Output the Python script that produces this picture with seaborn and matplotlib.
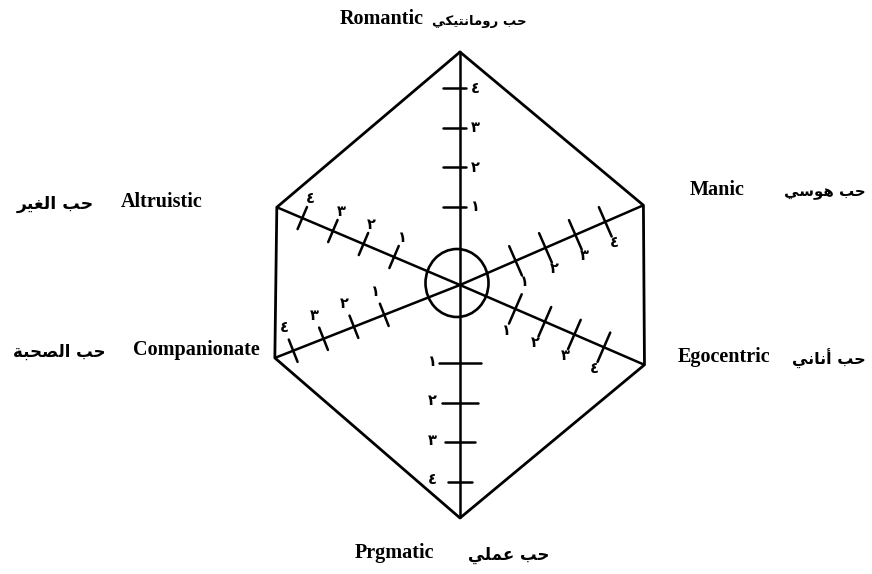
import numpy as np
import pandas as pd
import matplotlib
matplotlib.use("Agg")
import matplotlib.pyplot as plt
import seaborn as sns
from matplotlib.patches import Ellipse

# ---------------- data ----------------
axes_en = ["Romantic", "Manic", "Egocentric", "Prgmatic", "Companionate", "Altruistic"]
axes_ar = ["حب رومانتيكي", "حب هوسي", "حب أناني", "حب عملي", "حب الصحبة", "حب الغير"]
tick_values = [1, 2, 3, 4]
tick_labels = ["١", "٢", "٣", "٤"]

# ---------------- layout ----------------
W, H = 872, 574
CX, CY = 460, 285
axis_angle = [90, 23.5, -23.4, -90, -158.5, 157.0]     # degrees, counter-clockwise, screen up
axis_len = [233, 200, 201, 233, 199, 199]
tick_offset = [0.165, 0.14, 0.14, 0.165, 0.245, 0.193]  # radius fraction = offset + step*value
tick_step = [0.17, 0.163, 0.16, 0.17, 0.164, 0.167]

# ---------------- minimal Arabic shaping ----------------
DUAL = {'ب': (0xFE8F, 0xFE90, 0xFE91, 0xFE92), 'ت': (0xFE95, 0xFE96, 0xFE97, 0xFE98),
        'ج': (0xFE9D, 0xFE9E, 0xFE9F, 0xFEA0), 'ح': (0xFEA1, 0xFEA2, 0xFEA3, 0xFEA4),
        'س': (0xFEB1, 0xFEB2, 0xFEB3, 0xFEB4), 'ص': (0xFEB9, 0xFEBA, 0xFEBB, 0xFEBC),
        'ع': (0xFEC9, 0xFECA, 0xFECB, 0xFECC), 'غ': (0xFECD, 0xFECE, 0xFECF, 0xFED0),
        'ك': (0xFED9, 0xFEDA, 0xFEDB, 0xFEDC), 'ل': (0xFEDD, 0xFEDE, 0xFEDF, 0xFEE0),
        'م': (0xFEE1, 0xFEE2, 0xFEE3, 0xFEE4), 'ن': (0xFEE5, 0xFEE6, 0xFEE7, 0xFEE8),
        'ه': (0xFEE9, 0xFEEA, 0xFEEB, 0xFEEC), 'ي': (0xFEF1, 0xFEF2, 0xFEF3, 0xFEF4)}
RIGHT = {'ا': (0xFE8D, 0xFE8E), 'أ': (0xFE83, 0xFE84), 'ة': (0xFE93, 0xFE94),
         'ر': (0xFEAD, 0xFEAE), 'و': (0xFEED, 0xFEEE)}


def shape(s):
    out = []
    for i, c in enumerate(s):
        p = s[i - 1] if i > 0 else ''
        n = s[i + 1] if i + 1 < len(s) else ''
        if c in DUAL:
            jp = p in DUAL
            jn = n in DUAL or n in RIGHT
            idx = 3 if (jp and jn) else 1 if jp else 2 if jn else 0
            out.append(chr(DUAL[c][idx]))
        elif c in RIGHT:
            out.append(chr(RIGHT[c][1 if p in DUAL else 0]))
        else:
            out.append(c)
    return ''.join(reversed(out))


sns.set_theme(style="white")
plt.rcParams['font.family'] = ['Liberation Serif', 'DejaVu Sans']

fig = plt.figure(figsize=(W / 100, H / 100), dpi=100)
ax = fig.add_axes([0, 0, 1, 1])
ax.set_xlim(0, W)
ax.set_ylim(H, 0)
ax.axis("off")


def direction(i):
    a = np.deg2rad(axis_angle[i])
    return np.array([np.cos(a), -np.sin(a)])


# hexagon outline
verts = [np.array([CX, CY]) + axis_len[i] * direction(i) for i in range(6)]
hexdf = pd.DataFrame({"x": [v[0] for v in verts + verts[:1]],
                      "y": [v[1] for v in verts + verts[:1]]})
sns.lineplot(data=hexdf, x="x", y="y", sort=False, estimator=None, color="black",
             lw=2.0, ax=ax, legend=False)

# spokes
for i in range(6):
    d = direction(i)
    p = np.array([CX, CY]) + axis_len[i] * d
    ax.plot([CX, p[0]], [CY, p[1]], color="black", lw=1.8, solid_capstyle="butt")

# center circle
ax.add_patch(Ellipse((457, 283), 63, 68, fill=False, ec="black", lw=1.9))

num_font = dict(family=['DejaVu Sans'], fontweight="bold", fontsize=10.5, color="black")

for i in range(6):
    d = direction(i)
    perp_up = np.array([d[1], -d[0]])
    if perp_up[1] > 0:
        perp_up = -perp_up
    for v, lab in zip(tick_values, tick_labels):
        r = axis_len[i] * (tick_offset[i] + tick_step[i] * v)
        c = np.array([CX, CY]) + r * d
        if i == 0:   # Romantic: tick to the left, label to the right
            ax.plot([c[0] - 17, c[0] + 6], [c[1], c[1]], color="black", lw=1.8)
            ax.text(c[0] + 15, c[1], lab, ha="center", va="center", **num_font)
        elif i == 3:  # Pragmatic: centred tick, label to the left
            half_l = 24 - 3 * v
            ax.plot([c[0] - half_l, c[0] + half_l], [c[1], c[1]], color="black", lw=1.8)
            ax.text(c[0] - 28, c[1] - 2, lab, ha="center", va="center", **num_font)
        else:
            half = 16 if i in (1, 2) else 12
            a, b = c - half * perp_up, c + half * perp_up
            ax.plot([a[0], b[0]], [a[1], b[1]], color="black", lw=1.8)
            if i in (4, 5):
                off = 25 if i == 4 else 21
                t = c + off * perp_up
            else:
                off = 23
                t = c - off * perp_up
            ax.text(t[0], t[1], lab, ha="center", va="center", **num_font)

en_font = dict(family=['Liberation Serif'], fontweight="bold", fontsize=14.5, color="black")
ar_font = dict(family=['DejaVu Sans'], fontweight="bold", color="black")

# label placement: (english x, english ha, arabic x, arabic ha, y, arabic size)
label_pos = [
    (424, "right", 432, "left", 19, 9.5),      # Romantic
    (690, "left", 784, "left", 190, 10.8),     # Manic
    (678, "left", 792, "left", 357, 11.5),     # Egocentric
    (355, "left", 468, "left", 553, 12.0),     # Prgmatic
    (260, "right", 13, "left", 350, 12.0),     # Companionate
    (203, "right", 17, "left", 202, 12.5),     # Altruistic
]
for i in range(6):
    ex, eha, axx, aha, y, asz = label_pos[i]
    ax.text(ex, y, axes_en[i], ha=eha, va="center", **en_font)
    ax.text(axx, y + 2, shape(axes_ar[i]), ha=aha, va="center", fontsize=asz, **ar_font)

fig.savefig("out.png", dpi=100, facecolor="white")
